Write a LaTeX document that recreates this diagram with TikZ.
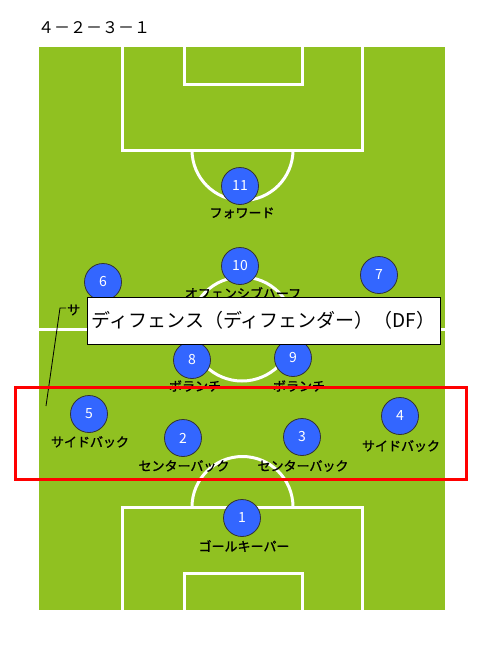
\documentclass[tikz,border=0pt]{standalone}
\usepackage{fontspec}
\newfontfamily\jp{Noto Sans CJK JP}
\newfontfamily\jpb[FakeBold=1.2]{Noto Sans CJK JP}
\definecolor{pitch}{RGB}{144,193,33}
\definecolor{player}{RGB}{51,102,255}
\tikzset{
  x=1pt, y=-1pt,
  fieldline/.style={draw=white, line width=3pt},
  playerdot/.style={circle, fill=player, draw=black!80, line width=0.8pt, minimum size=37pt, inner sep=0pt, text=white, font=\jp\fontsize{14}{14}\selectfont},
  role/.style={font=\jpb\fontsize{13}{13}\selectfont, text=black, inner sep=0pt},
  callout/.style={draw=black, fill=white, line width=0.8pt, minimum width=353pt, minimum height=47pt, inner sep=0pt, font=\jp\fontsize{19}{19}\selectfont},
}
\begin{document}
\begin{tikzpicture}
\useasboundingbox (0,0) rectangle (490,646);
\fill[white] (0,0) rectangle (490,646);
% title
\node[font=\jp\fontsize{16}{16}\selectfont, anchor=west, inner sep=0pt] (title) at (38,28) {４－２－３－１};
% pitch
\fill[pitch] (39,47) rectangle (445,610);
\begin{scope}
\clip (39,47) rectangle (445,610);
\draw[fieldline] (30,329) -- (455,329);
\draw[fieldline] (242,329) circle[radius=52];
\draw[fieldline] (122,40) -- (122,150) -- (362,150) -- (362,40);
\draw[fieldline] (184,40) -- (184,84) -- (302,84) -- (302,40);
\draw[fieldline] (192,150) arc[start angle=180, end angle=0, radius=50.5];
\draw[fieldline] (122,620) -- (122,507) -- (362,507) -- (362,620);
\draw[fieldline] (184,620) -- (184,573) -- (302,573) -- (302,620);
\draw[fieldline] (192,507) arc[start angle=180, end angle=360, radius=50.5];
\end{scope}
% role labels
\node[role] (l11) at (242,213) {フォワード};
\node[role] (l10) at (243,293) {オフェンシブハーフ};
\node[role, anchor=west] (l6) at (67,310) {サ};
\node[role] (l8) at (195,386) {ボランチ};
\node[role] (l9) at (299,386) {ボランチ};
\node[role] (l5) at (90,442) {サイドバック};
\node[role] (l2) at (184,466) {センターバック};
\node[role] (l3) at (303,466) {センターバック};
\node[role] (l4) at (401,446) {サイドバック};
\node[role] (l1) at (244,546) {ゴールキーパー};
% players
\node[playerdot] (p11) at (240,186) {11};
\node[playerdot] (p10) at (240,266) {10};
\node[playerdot] (p6) at (103,282) {6};
\node[playerdot] (p7) at (379,275) {7};
\node[playerdot] (p8) at (192,360) {8};
\node[playerdot] (p9) at (293,358) {9};
\node[playerdot] (p5) at (89,414) {5};
\node[playerdot] (p2) at (183,438) {2};
\node[playerdot] (p3) at (302,437) {3};
\node[playerdot] (p4) at (400,416) {4};
\node[playerdot] (p1) at (242,518) {1};
% callout
\node[callout] (df) at (263.5,320.5) {ディフェンス（ディフェンダー）（DF）};
\coordinate (lA) at (46,406);
\coordinate (lB) at (60,308);
\coordinate (lC) at (66,308);
\draw[black, line width=0.8pt] (lA) -- (lB) -- (lC);
% red highlight
\node[draw=red, line width=3pt, minimum width=451pt, minimum height=92pt, inner sep=0pt] (box) at (240.5,433) {};
\end{tikzpicture}
\end{document}
